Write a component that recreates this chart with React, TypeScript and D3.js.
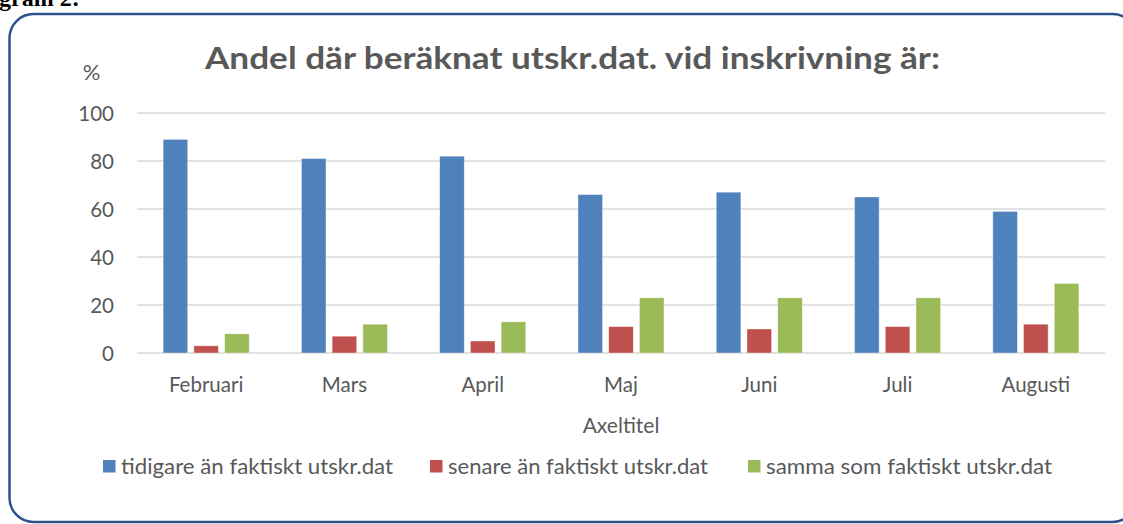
import React from "react";
import * as d3 from "d3";

const categories = ["Februari", "Mars", "April", "Maj", "Juni", "Juli", "Augusti"];
const seriesNames = [
  "tidigare än faktiskt utskr.dat",
  "senare än faktiskt utskr.dat",
  "samma som faktiskt utskr.dat",
];
const tidigare = [89, 81, 82, 66, 67, 65, 59];
const senare = [3, 7, 5, 11, 10, 11, 12];
const samma = [8, 12, 13, 23, 23, 23, 29];
const yTicks = [0, 20, 40, 60, 80, 100];
const colors = ["#4F81BD", "#C0504D", "#9BBB59"];
const titleText = "Andel där beräknat utskr.dat. vid inskrivning är:";
const xAxisTitle = "Axeltitel";
const yAxisTitle = "%";
const headerText = "Diagram 2:";

const W = 1123;
const H = 524;
const FONT = "Lato, 'Open Sans', sans-serif";
const GRAY = "#595959";

export default function App() {
  const values = [tidigare, senare, samma];
  const x = d3.scaleBand<string>().domain(categories).range([137, 1105]).padding(0);
  const inner = d3
    .scaleBand<number>()
    .domain([0, 1, 2])
    .range([0, x.bandwidth()])
    .paddingInner(0.2)
    .paddingOuter(0.85);
  const y = d3.scaleLinear().domain([0, 100]).range([353, 113]);

  const legendBoxes = [103, 430, 748];
  const legendWidths = [272, 260, 286];

  return (
    <svg
      width={W}
      height={H}
      style={{ position: "absolute", left: 0, top: 0, background: "#fff" }}
      fontFamily={FONT}
    >
      <rect x={0} y={0} width={W} height={H} fill="#fff" />
      <text
        x={-37}
        y={6}
        fontFamily="'Liberation Serif', 'Times New Roman', serif"
        fontWeight="bold"
        fontSize={24}
        fill="#000"
      >
        {headerText}
      </text>
      <rect
        x={9.5}
        y={14}
        width={1127}
        height={508}
        rx={24}
        ry={24}
        fill="#fff"
        stroke="#2C5289"
        strokeWidth={2.5}
      />
      <text
        x={572.5}
        y={69}
        textAnchor="middle"
        fontWeight="bold"
        fontSize={31}
        fill={GRAY}
        textLength={735}
        lengthAdjust="spacingAndGlyphs"
      >
        {titleText}
      </text>
      <text x={91.5} y={80} textAnchor="middle" fontSize={22} fill={GRAY}>
        {yAxisTitle}
      </text>
      {yTicks.map((t) => (
        <g key={t}>
          <line x1={137} x2={1105} y1={y(t)} y2={y(t)} stroke="#D9D9D9" strokeWidth={1.5} />
          <text x={114} y={y(t) + 7.5} textAnchor="end" fontSize={20.5} fill={GRAY}>
            {t}
          </text>
        </g>
      ))}
      {categories.map((c, i) => (
        <g key={c}>
          {values.map((vals, s) => (
            <rect
              key={s}
              x={(x(c) as number) + (inner(s) as number)}
              y={y(vals[i])}
              width={inner.bandwidth()}
              height={y(0) - y(vals[i])}
              fill={colors[s]}
              stroke="#ffffff"
              strokeOpacity={0.5}
              strokeWidth={0.75}
            />
          ))}
          <text
            x={(x(c) as number) + x.bandwidth() / 2}
            y={392}
            textAnchor="middle"
            fontSize={20.5}
            fill={GRAY}
          >
            {c}
          </text>
        </g>
      ))}
      <text x={621} y={433} textAnchor="middle" fontSize={21} fill={GRAY}>
        {xAxisTitle}
      </text>
      {seriesNames.map((n, s) => (
        <g key={n}>
          <rect x={legendBoxes[s]} y={460} width={12.5} height={12.5} fill={colors[s]} />
          <text
            x={legendBoxes[s] + 18}
            y={474}
            fontSize={20.5}
            fill={GRAY}
            textLength={legendWidths[s]}
            lengthAdjust="spacingAndGlyphs"
          >
            {n}
          </text>
        </g>
      ))}
    </svg>
  );
}
